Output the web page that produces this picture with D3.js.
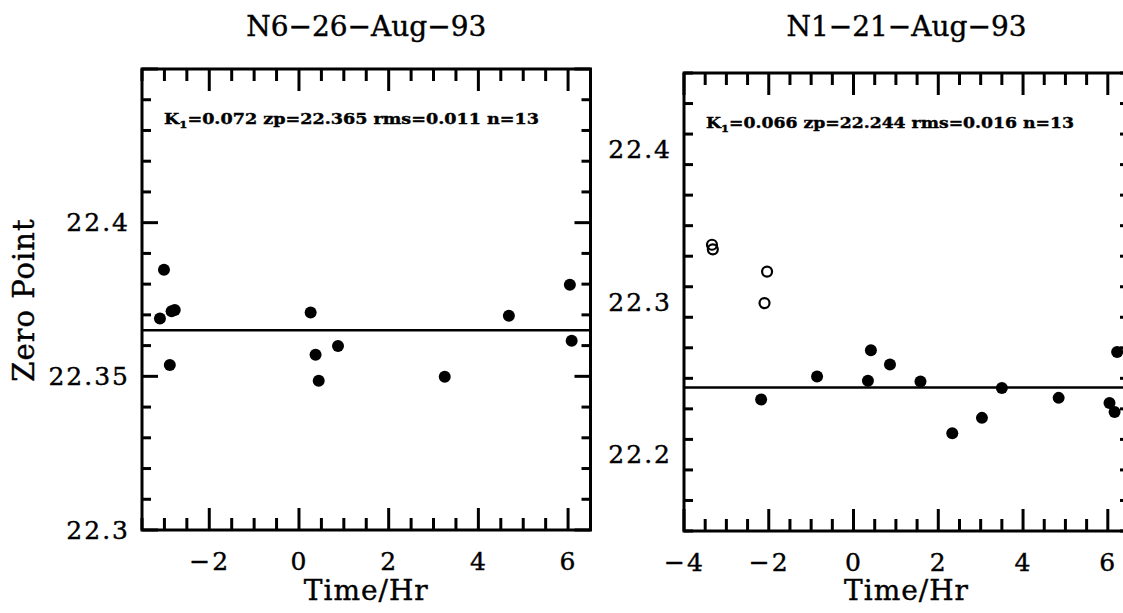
<!DOCTYPE html>
<html>
<head>
<meta charset="utf-8">
<script src="https://cdn.jsdelivr.net/npm/d3@7"></script>
<style>
  body { margin: 0; background: #fff; }
</style>
</head>
<body>
<div id="chart"></div>
<script>
const w = 1123;
const h = 613;
const font = "'DejaVu Serif', serif";

// Left panel: N6-26-Aug-93 (all fitted points)
const leftTime = [-3.10, -3.01, -2.84, -2.77, -2.88, 0.26, 0.37, 0.44, 0.87, 3.25, 4.68, 6.04, 6.08];
const leftZp   = [22.3688, 22.3847, 22.3712, 22.3716, 22.3537, 22.3708, 22.3570, 22.3486, 22.3599, 22.3499, 22.3697, 22.3798, 22.3616];
const leftFit = 22.365;
const leftYTicks = [22.3, 22.35, 22.4];
const leftXTicks = [-2, 0, 2, 4, 6];

// Right panel: N1-21-Aug-93 (filled = used, open = rejected)
const rightTime = [-2.18, -0.86, 0.34, 0.41, 0.86, 1.58, 2.33, 3.03, 3.50, 4.84, 6.04, 6.16, 6.22];
const rightZp   = [22.2361, 22.2512, 22.2484, 22.2684, 22.2591, 22.2480, 22.2140, 22.2241, 22.2437, 22.2372, 22.2338, 22.2280, 22.2673];
const rightOpenTime = [-3.34, -3.32, -2.04, -2.10];
const rightOpenZp   = [22.3375, 22.3345, 22.3199, 22.2993];
const rightFit = 22.244;
const rightYTicks = [22.2, 22.3, 22.4];
const rightXTicks = [-4, -2, 0, 2, 4, 6];

const svg = d3.select("#chart")
  .append('svg')
  .attr('width', w)
  .attr('height', h);

const numFmt = d => (d < 0 ? '\u2212' : '') + String(+Math.abs(d).toFixed(2));

function panel(cfg) {
  const x = d3.scaleLinear().domain(cfg.xDom).range([cfg.x0, cfg.x1]);
  const y = d3.scaleLinear().domain(cfg.yDom).range([cfg.y1, cfg.y0]);
  const g = svg.append('g');

  const xMinor = d3.range(cfg.xDom[0], cfg.xDom[1] + 1e-9, 0.5);
  const yMinor = d3.range(cfg.yDom[0], cfg.yDom[1] + 1e-9, cfg.yMinorStep);
  const isMajorX = d => Math.abs(d % 2) < 1e-6;
  const isMajorY = d => cfg.yTicks.some(t => Math.abs(t - d) < 1e-6) || (cfg.topMajor && Math.abs(d - cfg.yDom[1]) < 1e-6);

  // frame
  g.append('rect')
    .attr('x', cfg.x0).attr('y', cfg.y0)
    .attr('width', cfg.x1 - cfg.x0).attr('height', cfg.y1 - cfg.y0)
    .attr('fill', 'none').attr('stroke', '#000').attr('stroke-width', 3);

  //x tick marks, bottom and top, pointing inward
  [[cfg.y1, -1], [cfg.y0, 1]].forEach(([yy, dir]) => {
    g.append('g').attr('class', 'xticks').selectAll('line').data(xMinor).join('line')
      .attr('x1', d => x(d)).attr('x2', d => x(d))
      .attr('y1', yy).attr('y2', d => yy + dir * (isMajorX(d) ? 22 : 12))
      .attr('stroke', '#000').attr('stroke-width', 3);
  });
  //y tick marks, left and right
  [[cfg.x0, 1], [cfg.x1, -1]].forEach(([xx, dir]) => {
    g.append('g').attr('class', 'yticks').selectAll('line').data(yMinor).join('line')
      .attr('y1', d => y(d)).attr('y2', d => y(d))
      .attr('x1', xx).attr('x2', d => xx + dir * (isMajorY(d) ? 16 : 9))
      .attr('stroke', '#000').attr('stroke-width', 3);
  });

  // tick labels through d3 axes
  const styleAxis = sel => {
    sel.select('.domain').remove();
    sel.selectAll('.tick line').remove();
    sel.attr('font-family', font).attr('font-size', 25)
      .attr('letter-spacing', 2)
      .attr('stroke', '#000').attr('stroke-width', 0.4);
  };
  g.append('g').attr('transform', `translate(0,${cfg.y1})`)
    .call(d3.axisBottom(x).tickValues(cfg.xTicks).tickFormat(numFmt).tickSize(0).tickPadding(22)).call(styleAxis);
  g.append('g').attr('transform', `translate(${cfg.x0},0)`)
    .call(d3.axisLeft(y).tickValues(cfg.yTicks).tickFormat(numFmt).tickSize(0).tickPadding(12)).call(styleAxis);

  // fit line
  g.append('line')
    .attr('x1', x(cfg.xDom[0])).attr('x2', x(cfg.xDom[1]))
    .attr('y1', y(cfg.fit)).attr('y2', y(cfg.fit))
    .attr('stroke', '#000').attr('stroke-width', 2.5);

  // points
  g.append('g').selectAll('.dot')
    .data(cfg.t)
    .enter()
    .append('circle')
    .attr('class', 'dot')
    .attr('cx', d => x(d))
    .attr('cy', (d, i) => y(cfg.zp[i]))
    .attr('r', 6)
    .attr('fill', '#000');

  if (cfg.openT) {
    g.append('g').selectAll('.open')
      .data(cfg.openT)
      .enter()
      .append('circle')
      .attr('class', 'open')
      .attr('cx', d => x(d))
      .attr('cy', (d, i) => y(cfg.openZp[i]))
      .attr('r', 5)
      .attr('fill', 'none')
      .attr('stroke', '#000')
      .attr('stroke-width', 2.2);
  }

  // fit annotation
  const note = g.append('text')
    .attr('x', cfg.x0 + 22).attr('y', cfg.y0 + 55)
    .attr('font-family', font).attr('font-size', 15).attr('font-weight', 'bold')
    .attr('stroke', '#000').attr('stroke-width', 0.4)
    .attr('textLength', cfg.noteLen).attr('lengthAdjust', 'spacingAndGlyphs');
  note.append('tspan').text('K');
  note.append('tspan').attr('font-size', 10).attr('dy', 4).text('1');
  note.append('tspan').attr('dy', -4).text(cfg.note);

  // title and x label
  const cx = (cfg.x0 + cfg.x1) / 2;
  svg.append('text')
    .attr('x', cx).attr('y', 36)
    .attr('text-anchor', 'middle')
    .attr('font-family', font).attr('font-size', 28)
    .attr('stroke', '#000').attr('stroke-width', 0.4)
    .text(cfg.title);
  svg.append('text')
    .attr('x', cx).attr('y', 600)
    .attr('text-anchor', 'middle')
    .attr('font-family', font).attr('font-size', 28).attr('letter-spacing', 1)
    .attr('stroke', '#000').attr('stroke-width', 0.4)
    .text('Time/Hr');
}

panel({
  x0: 142, x1: 590.5, y0: 69, y1: 530,
  xDom: [-3.5, 6.5], yDom: [22.3, 22.45], yMinorStep: 0.01, topMajor: true,
  xTicks: leftXTicks, yTicks: leftYTicks,
  t: leftTime, zp: leftZp, fit: leftFit,
  title: 'N6\u221226\u2212Aug\u221293',
  note: '=0.072 zp=22.365 rms=0.011 n=13', noteLen: 375
});

panel({
  x0: 684, x1: 1129, y0: 73, y1: 531,
  xDom: [-4, 6.5], yDom: [22.15, 22.45], yMinorStep: 0.02, topMajor: false,
  xTicks: rightXTicks, yTicks: rightYTicks,
  t: rightTime, zp: rightZp, fit: rightFit,
  openT: rightOpenTime, openZp: rightOpenZp,
  title: 'N1\u221221\u2212Aug\u221293',
  note: '=0.066 zp=22.244 rms=0.016 n=13', noteLen: 368
});

// y label
svg.append('text')
  .attr('transform', 'translate(34,300) rotate(-90)')
  .attr('text-anchor', 'middle')
  .attr('font-family', font).attr('font-size', 29).attr('letter-spacing', 1)
  .attr('stroke', '#000').attr('stroke-width', 0.4)
  .text('Zero Point');
</script>
</body>
</html>
